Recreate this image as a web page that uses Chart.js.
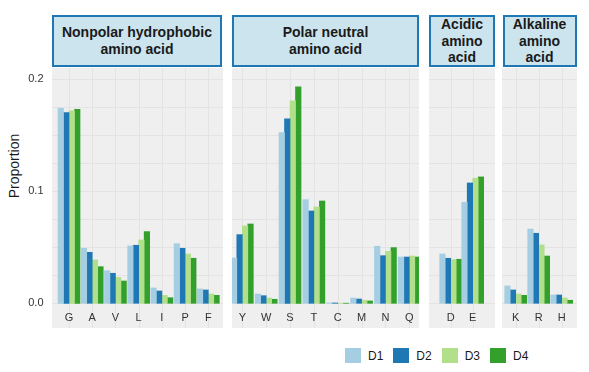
<!DOCTYPE html>
<html>
<head>
<meta charset="utf-8">
<script src="https://cdn.jsdelivr.net/npm/chart.js@4.4.1/dist/chart.umd.min.js"></script>
<style>
  body { margin: 0; background: #fff; font-family: "Liberation Sans", Arial, sans-serif; }
  #page { position: relative; width: 589px; height: 372px; overflow: hidden; }
  .strip { position: absolute; top: 15px; height: 52px; box-sizing: border-box; border: 2px solid #1f78b4;
           background: #cbe4ee; display: flex; align-items: center; justify-content: center; text-align: center;
           font-weight: bold; font-size: 14px; line-height: 16.8px; color: #1a1a1a; white-space: pre-line; }
  .panel { position: absolute; top: 68px; height: 260px; }
  #ytitle { position: absolute; left: 14px; top: 166px; transform: translate(-50%, -50%) rotate(-90deg);
            font-size: 14px; color: #1a1a1a; white-space: nowrap; }
  #legend { position: absolute; left: 345px; top: 348px; display: flex; align-items: center; font-size: 12px; color: #1a1a1a; }
  #legend .item { display: flex; align-items: center; margin-right: 10px; }
  #legend .box { width: 16px; height: 15px; margin-right: 7px; }
</style>
</head>
<body>
<div id="page">
  <div id="ytitle">Proportion</div>
  <div id="legend"></div>
</div>
<script>
// amino acids in plotting order, grouped into facets
const aminoAcids = ['G','A','V','L','I','P','F','Y','W','S','T','C','M','N','Q','D','E','K','R','H'];
const groupNames = ['Nonpolar hydrophobic\namino acid', 'Polar neutral\namino acid', 'Acidic\namino\nacid', 'Alkaline\namino\nacid'];
const groupSizes = [7, 8, 2, 3];

const seriesNames = ['D1','D2','D3','D4'];
const seriesColors = ['#a6cee3','#1f78b4','#b2df8a','#33a02c'];

const d1 = [0.1741,0.0491,0.0291,0.0512,0.0137,0.0532,0.0128, 0.0404,0.0083,0.1523,0.0925,0.0004,0.0047,0.0509,0.0413, 0.0440,0.0902, 0.0155,0.0663,0.0074];
const d2 = [0.1702,0.0455,0.0268,0.0518,0.0110,0.0491,0.0119, 0.0613,0.0068,0.1646,0.0824,0.0003,0.0038,0.0425,0.0413, 0.0402,0.1074, 0.0119,0.0625,0.0074];
const d3 = [0.1717,0.0387,0.0232,0.0565,0.0071,0.0440,0.0083, 0.0690,0.0047,0.1806,0.0860,0.0001,0.0027,0.0464,0.0422, 0.0390,0.1116, 0.0083,0.0521,0.0047];
const d4 = [0.1732,0.0327,0.0199,0.0640,0.0050,0.0402,0.0071, 0.0708,0.0036,0.1931,0.0913,0.0001,0.0021,0.0497,0.0413, 0.0393,0.1128, 0.0071,0.0422,0.0027];
const seriesData = [d1, d2, d3, d4];

const yTickStep = 0.025;
const yMax = 0.21;

// panel layout on the page (px): canvas box, grey background start, padding to first/last category
const panels = [
  { left: 0,   width: 223, bg: 52, padL: 69,   padR: 14.7 },
  { left: 232, width: 187, bg: 0,  padL: 10.3, padR: 9.7 },
  { left: 429, width: 66,  bg: 0,  padL: 21.7, padR: 22.3 },
  { left: 502, width: 75,  bg: 0,  padL: 13.7, padR: 15.3 }
];
const stripBoxes = [[52, 222], [232, 419], [429, 495], [502.5, 576.5]];

const panelBg = {
  id: 'panelBg',
  beforeDraw(chart, args, opts) {
    const ctx = chart.ctx, x = chart.scales.x, y = chart.scales.y;
    ctx.save();
    ctx.fillStyle = '#efefef';
    ctx.fillRect(opts.left, 0, chart.width - opts.left, chart.height);
    ctx.strokeStyle = '#e3e3e3';
    ctx.lineWidth = 1;
    y.ticks.forEach(t => {
      const py = Math.round(y.getPixelForValue(t.value)) + 0.5;
      ctx.beginPath(); ctx.moveTo(opts.left, py); ctx.lineTo(chart.width, py); ctx.stroke();
    });
    x.ticks.forEach((t, i) => {
      const px = Math.round(x.getPixelForTick(i)) + 0.5;
      ctx.beginPath(); ctx.moveTo(px, 0); ctx.lineTo(px, chart.height); ctx.stroke();
    });
    ctx.restore();
  }
};

const page = document.getElementById('page');
let start = 0;
panels.forEach((p, k) => {
  const n = groupSizes[k];
  const labels = aminoAcids.slice(start, start + n);
  const datasets = seriesNames.map((s, j) => ({
    label: s,
    data: seriesData[j].slice(start, start + n),
    backgroundColor: seriesColors[j],
    borderWidth: 0,
    barThickness: 5.5,
    clip: false
  }));
  start += n;

  const strip = document.createElement('div');
  strip.className = 'strip';
  strip.style.left = stripBoxes[k][0] + 'px';
  strip.style.width = (stripBoxes[k][1] - stripBoxes[k][0]) + 'px';
  strip.textContent = groupNames[k];
  page.appendChild(strip);

  const div = document.createElement('div');
  div.className = 'panel';
  div.style.left = p.left + 'px';
  div.style.width = p.width + 'px';
  const cv = document.createElement('canvas');
  div.appendChild(cv);
  page.appendChild(div);

  const first = k === 0;
  new Chart(cv, {
    type: 'bar',
    data: { labels: labels, datasets: datasets },
    plugins: [panelBg],
    options: {
      responsive: true,
      maintainAspectRatio: false,
      animation: false,
      layout: { padding: { left: first ? 0 : p.padL, right: p.padR, top: 0, bottom: 0 } },
      plugins: {
        legend: { display: false },
        tooltip: { enabled: false },
        panelBg: { left: p.bg }
      },
      scales: {
        x: {
          type: 'category',
          offset: false,
          grid: { display: false, drawTicks: false },
          border: { display: false },
          ticks: { autoSkip: false, maxRotation: 0, padding: 8.5, color: '#333', font: { family: 'Liberation Sans', size: 11 } },
          afterFit: s => { s.height = 24.7; s.paddingLeft = 0; s.paddingRight = 0; }
        },
        y: {
          min: 0,
          max: yMax,
          grid: { display: false, drawTicks: false, tickLength: 0 },
          border: { display: false },
          afterBuildTicks: s => { s.ticks = s.ticks.filter(t => Math.abs(t.value / yTickStep - Math.round(t.value / yTickStep)) < 1e-6); },
          ticks: {
            display: first,
            stepSize: yTickStep,
            includeBounds: false,
            autoSkip: false,
            padding: 25.5,
            color: '#333',
            font: { family: 'Liberation Sans', size: 11 },
            callback: v => Math.abs(v * 10 - Math.round(v * 10)) < 1e-6 ? v.toFixed(1) : ''
          },
          afterFit: s => { s.width = first ? p.padL : 0; s.paddingTop = 0; s.paddingBottom = 0; }
        }
      }
    }
  });
});

// legend
const legend = document.getElementById('legend');
seriesNames.forEach((s, j) => {
  const item = document.createElement('div');
  item.className = 'item';
  const box = document.createElement('span');
  box.className = 'box';
  box.style.background = seriesColors[j];
  const txt = document.createElement('span');
  txt.textContent = s;
  item.appendChild(box);
  item.appendChild(txt);
  legend.appendChild(item);
});
</script>
</body>
</html>
